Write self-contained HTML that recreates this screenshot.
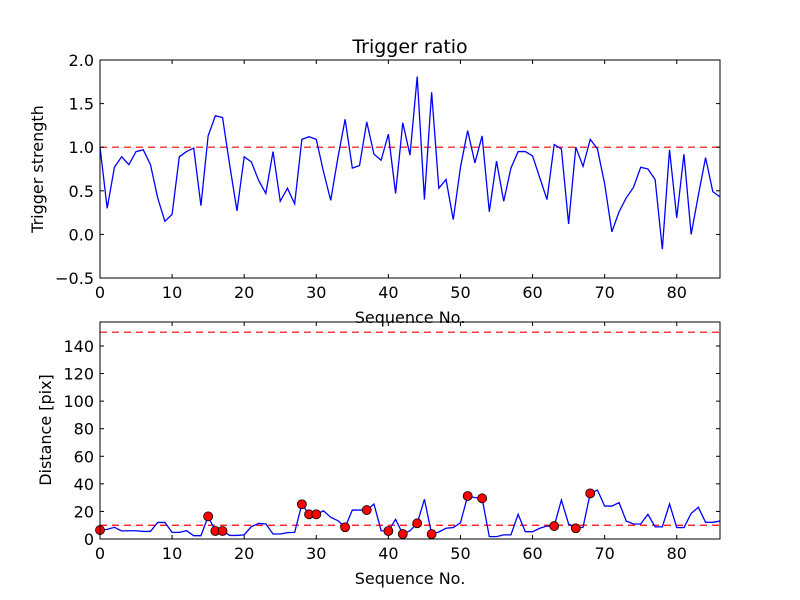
<!DOCTYPE html>
<html><head><meta charset="utf-8"><style>
html,body{margin:0;padding:0;background:#fff;}
svg{display:block;font-family:"DejaVu Sans","Liberation Sans",sans-serif;}
</style></head><body>
<svg id="chart" width="800" height="600" viewBox="0 0 800 600"></svg>
<script>
const seqIndex = Array.from({length:87},(_,i)=>i);
const triggerStrength = [1.0,0.30,0.77,0.89,0.80,0.95,0.97,0.80,0.42,0.15,0.23,0.89,0.95,0.99,0.33,1.13,1.36,1.34,0.79,0.27,0.89,0.83,0.62,0.47,0.95,0.38,0.53,0.35,1.09,1.12,1.09,0.72,0.39,0.88,1.32,0.76,0.79,1.29,0.92,0.85,1.15,0.47,1.28,0.91,1.81,0.40,1.63,0.53,0.63,0.17,0.77,1.19,0.82,1.13,0.26,0.84,0.38,0.76,0.95,0.95,0.90,0.65,0.40,1.03,0.98,0.12,1.00,0.78,1.09,0.98,0.58,0.03,0.26,0.42,0.54,0.77,0.75,0.63,-0.17,0.97,0.19,0.92,0.00,0.45,0.88,0.49,0.43];
const distance = [6.5,7,8.5,5.8,6,6,5.5,5.5,12,12,4.8,4.8,6,2.4,2.4,16.4,5.8,5.8,2.6,2.6,3,9,11.3,11,3.6,3.6,4.6,4.8,25.2,17.9,17.9,20.5,15.7,13.3,8.5,21,21,21,25.4,6,5.8,14.3,3.6,6,11.4,28.8,3.6,5.1,7.8,8.3,11.8,31.2,30,29.5,1.7,1.7,3,3,17.9,5.3,5.3,7.8,9.4,9.4,28.3,10.9,7.8,8.5,33.1,35.5,23.9,23.9,26.4,13,10.9,10.9,17.9,8.8,8.8,25.4,8.3,8.3,18.6,23,12.1,12.1,13];
const markerIndices = [0,15,16,17,28,29,30,34,37,40,42,44,46,51,53,63,66,68];
const triggerThreshold = 1.0;
const distanceThresholds = [10,150];
const xTicks = [0,10,20,30,40,50,60,70,80];
const topYTicks = [-0.5,0.0,0.5,1.0,1.5,2.0];
const botYTicks = [0,20,40,60,80,100,120,140];

const svg=document.getElementById('chart');
const NS='http://www.w3.org/2000/svg';
function mk(tag,attrs,parent){const e=document.createElementNS(NS,tag);for(const k in attrs)e.setAttribute(k,attrs[k]);(parent||svg).appendChild(e);return e;}
const L=100,R=720,xMax=86;
const xs=v=>L+(v/xMax)*(R-L);
const T1=60,B1=278,yMin1=-0.5,yMax1=2.0;
const ys1=v=>B1-(v-yMin1)/(yMax1-yMin1)*(B1-T1);
const T2=322,B2=539,yMax2=157.4;
const ys2=v=>B2-(v/yMax2)*(B2-T2);

function fmt1(v){return v<0?'\u2212'+Math.abs(v).toFixed(1):v.toFixed(1);}

function axes(T,B,ys,yt,fmtY,name){
  const g=mk('g',{});
  
  
  xTicks.forEach(t=>{
    const x=xs(t);
    const l1=mk('line',{x1:x,x2:x,y1:B,y2:B-4,stroke:'#000','stroke-width':1},g);
    
    mk('line',{x1:x,x2:x,y1:T,y2:T+4,stroke:'#000','stroke-width':1},g);
    const tx=mk('text',{x:x,y:B+20,'text-anchor':'middle','font-size':16},g);
    
    tx.textContent=t;
  });
  yt.forEach(t=>{
    const y=ys(t);
    const l1=mk('line',{x1:L,x2:L+4,y1:y,y2:y,stroke:'#000','stroke-width':1},g);
    
    mk('line',{x1:R,x2:R-4,y1:y,y2:y,stroke:'#000','stroke-width':1},g);
    const tx=mk('text',{x:L-6,y:y+6,'text-anchor':'end','font-size':16},g);
    
    tx.textContent=fmtY(t);
  });
  return g;
}

const g1=mk('g',{});


const th=mk('line',{x1:L,x2:R,y1:ys1(triggerThreshold),y2:ys1(triggerThreshold),stroke:'#f00','stroke-width':1.2,'stroke-dasharray':'7,5'},g1);

const p1=mk('polyline',{points:triggerStrength.map((v,i)=>xs(seqIndex[i])+','+ys1(v)).join(' '),fill:'none',stroke:'#00f','stroke-width':1.3},g1);

const f1=mk('rect',{x:L,y:T1,width:R-L,height:B1-T1,fill:'none',stroke:'#000','stroke-width':1},g1);

axes(T1,B1,ys1,topYTicks,fmt1,'top-axes');
const ttl=mk('text',{x:410,y:53,'text-anchor':'middle','font-size':19});

ttl.textContent='Trigger ratio';
const xl1=mk('text',{x:410,y:323,'text-anchor':'middle','font-size':16});

xl1.textContent='Sequence No.';
const yl1=mk('text',{x:0,y:0,'text-anchor':'middle','font-size':16,transform:'translate(43,169) rotate(-90)'});

yl1.textContent='Trigger strength';

const g2=mk('g',{});


distanceThresholds.forEach(v=>{
  const l=mk('line',{x1:L,x2:R,y1:ys2(v),y2:ys2(v),stroke:'#f00','stroke-width':1.2,'stroke-dasharray':'7,5'},g2);
  
});
const p2=mk('polyline',{points:distance.map((v,i)=>xs(seqIndex[i])+','+ys2(v)).join(' '),fill:'none',stroke:'#00f','stroke-width':1.3},g2);

markerIndices.forEach(i=>{
  const c=mk('circle',{cx:xs(seqIndex[i]),cy:ys2(distance[i]),r:4.5,fill:'#f00',stroke:'#000','stroke-width':0.8},g2);
  
});
const f2=mk('rect',{x:L,y:T2,width:R-L,height:B2-T2,fill:'none',stroke:'#000','stroke-width':1},g2);

axes(T2,B2,ys2,botYTicks,v=>String(v),'bottom-axes');
const xl2=mk('text',{x:410,y:584,'text-anchor':'middle','font-size':16});

xl2.textContent='Sequence No.';
const yl2=mk('text',{x:0,y:0,'text-anchor':'middle','font-size':16,transform:'translate(51,430) rotate(-90)'});

yl2.textContent='Distance [pix]';
</script>
</body></html>
